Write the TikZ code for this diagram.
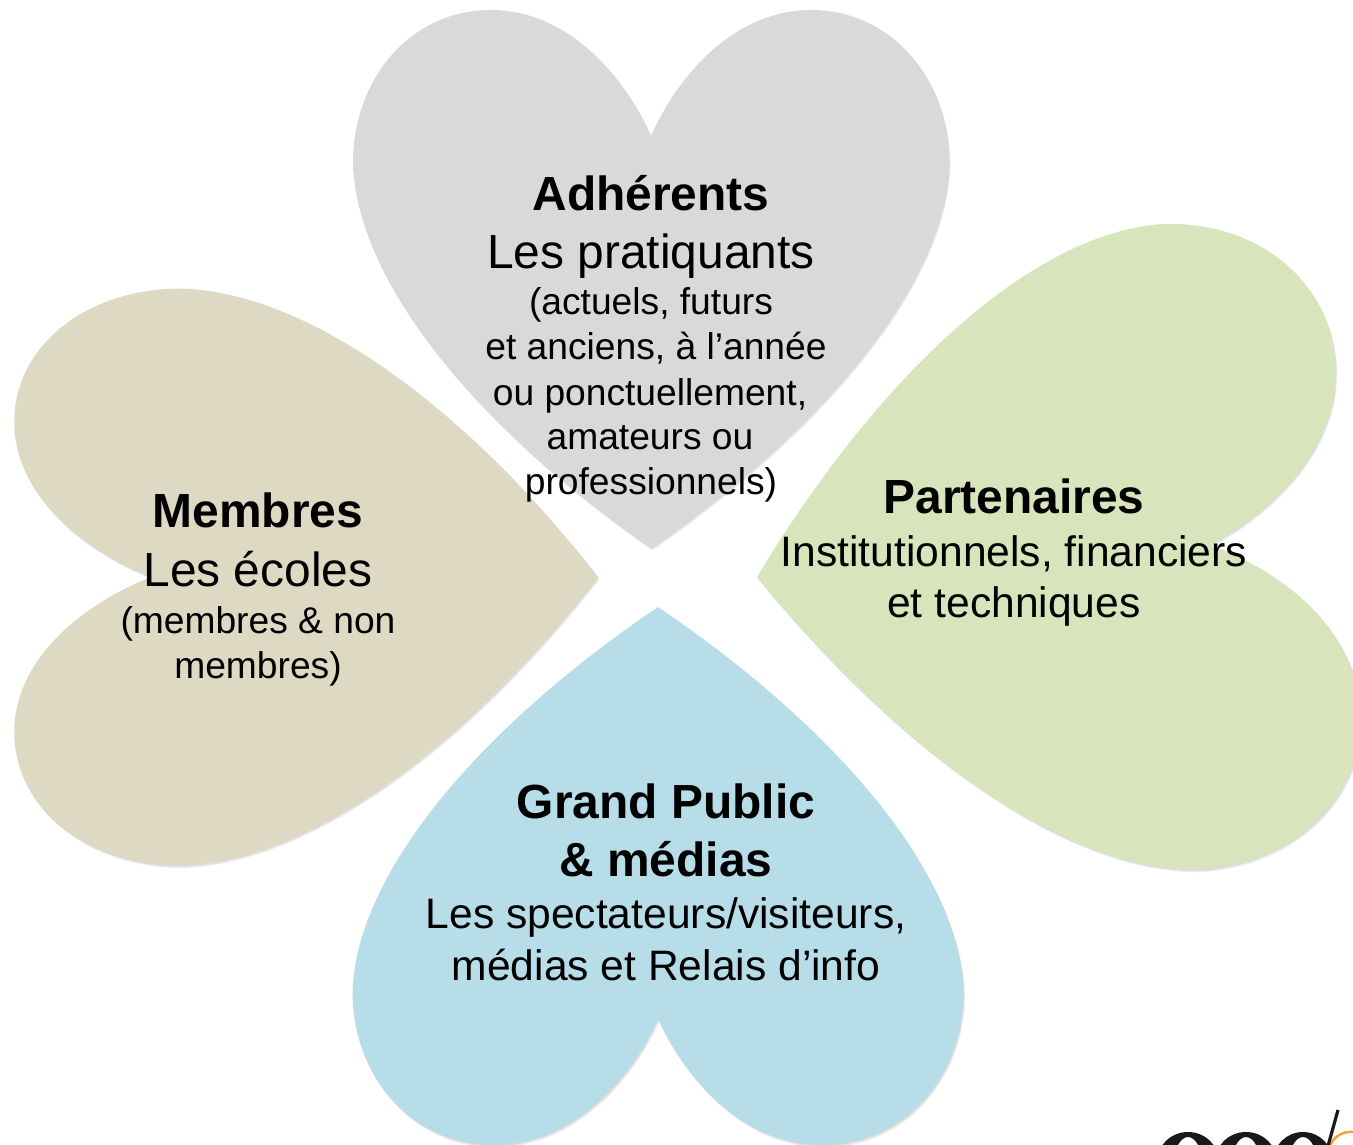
\documentclass[tikz,border=0pt]{standalone}
\usepackage{fontspec}
\setmainfont{Liberation Sans}
\definecolor{heartgrey}{HTML}{D9D9D9}
\definecolor{heartbeige}{HTML}{DDD9C3}
\definecolor{heartgreen}{HTML}{D8E4BC}
\definecolor{heartblue}{HTML}{B7DDE8}
\definecolor{logoorange}{HTML}{F7A030}
\newcommand{\heartoutline}{(0,412) .. controls (28,475) and (85,538) .. (160,538)
  .. controls (240,538) and (298,470) .. (298,385)
  .. controls (295,270) and (180,125) .. (0,0)
  .. controls (-180,125) and (-295,270) .. (-298,385)
  .. controls (-298,470) and (-240,538) .. (-160,538)
  .. controls (-85,538) and (-28,475) .. (0,412) -- cycle}
% tip x, tip y, lateral vector, axis vector, colour
\newcommand{\heartat}[5]{%
  \begin{scope}[shift={(#1,#2)},x={#3},y={#4}]
    \fill[black,opacity=.07,xshift=1.5pt,yshift=-2.5pt] \heartoutline;
    \fill[black,opacity=.07,xshift=.8pt,yshift=-1.2pt] \heartoutline;
    \fill[#5] \heartoutline;
  \end{scope}}
\tikzset{
  lineb/.style={anchor=base,font=\fontsize{47.9}{50}\selectfont\bfseries,inner sep=0pt},
  linel/.style={anchor=base,font=\fontsize{47.9}{50}\selectfont,inner sep=0pt},
  linem/.style={anchor=base,font=\fontsize{42.6}{46}\selectfont,inner sep=0pt},
  lines/.style={anchor=base,font=\fontsize{37.2}{40}\selectfont,inner sep=0pt}
}
\begin{document}
\begin{tikzpicture}[x=1pt,y=-1pt]
\useasboundingbox (0,0) rectangle (1353,1145);
\clip (0,0) rectangle (1353,1145);
\fill[white] (0,0) rectangle (1353,1145);
\heartat{651}{548}{(1pt,0pt)}{(0pt,1pt)}{heartgrey}
\heartat{598}{577}{(0pt,-.968pt)}{(-1.085pt,0pt)}{heartbeige}
\heartat{757}{577}{(.078pt,-1.082pt)}{(1.098pt,.078pt)}{heartgreen}
\heartat{658}{607}{(1.025pt,0pt)}{(0pt,-1pt)}{heartblue}
% logo
\fill[black!90,even odd rule] (1188,1162) ellipse (31 and 30) (1188,1168) ellipse (15 and 31);
\fill[black!90,even odd rule] (1246,1162) ellipse (31 and 30) (1246,1168) ellipse (15 and 31);
\fill[black!90,even odd rule] (1303,1162) ellipse (30 and 30) (1303,1168) ellipse (15 and 31);
\draw[logoorange,line width=2.4pt] (1330,1146) .. controls (1334,1136) and (1343,1131) .. (1354,1132);
\draw[black!90,line width=3.2pt] (1338,1110) -- (1328,1146);
% text
\node[lineb] (a1) at (651,211) {Adhérents};
\node[linel] (a2) at (651,268) {Les pratiquants};
\node[lines] (a3) at (651,314) {(actuels, futurs};
\node[lines] (a4) at (656,359) {et anciens, à l’année};
\node[lines] (a5) at (650,405) {ou ponctuellement,};
\node[lines] (a6) at (650,449) {amateurs ou};
\node[lines] (a7) at (651,494) {professionnels)};
\node[lineb] (m1) at (258,527) {Membres};
\node[linel] (m2) at (258,586) {Les écoles};
\node[lines] (m3) at (258,633) {(membres \& non};
\node[lines] (m4) at (258,678) {membres)};
\node[lineb] (p1) at (1014,513) {Partenaires};
\node[linem] (p2) at (1014,566) {Institutionnels, financiers};
\node[linem] (p3) at (1014,617) {et techniques};
\node[lineb] (g1) at (666,818) {Grand Public};
\node[lineb] (g2) at (666,876) {\& médias};
\node[linem] (g3) at (666,928) {Les spectateurs/visiteurs,};
\node[linem] (g4) at (666,980) {médias et Relais d’info};
\end{tikzpicture}
\end{document}
